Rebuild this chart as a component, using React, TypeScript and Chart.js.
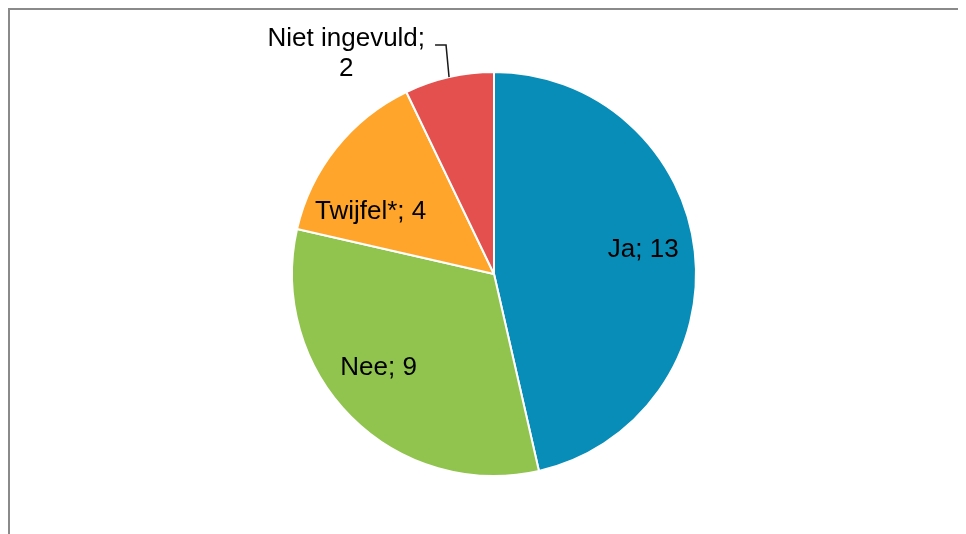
import React, { useEffect, useRef } from "react";
import { Chart, registerables } from "chart.js";

Chart.register(...registerables);

const categories = ["Ja", "Nee", "Twijfel*", "Niet ingevuld"];
const values = [13, 9, 4, 2];
const colors = ["#078DB7", "#91C44E", "#FFA52C", "#E3504D"];

// label placement per slice: inside (radius fraction + angle nudge in degrees) or outside with leader
const labelPlacement = [
  { mode: "inside", frac: 0.748, nudge: -2.7 },
  { mode: "inside", frac: 0.735, nudge: 6 },
  { mode: "inside", frac: 0.685, nudge: -11.7 },
  { mode: "outside" },
];

const FONT = "26px 'Liberation Sans', Arial, sans-serif";

const labelPlugin = {
  id: "pieLabels",
  afterDatasetsDraw(chart: any) {
    const ctx = chart.ctx;
    const meta = chart.getDatasetMeta(0);
    ctx.save();
    ctx.font = FONT;
    ctx.fillStyle = "#000";
    ctx.textBaseline = "middle";
    meta.data.forEach((arc: any, i: number) => {
      const p = labelPlacement[i];
      const { x, y, startAngle, endAngle, outerRadius } = arc.getProps(
        ["x", "y", "startAngle", "endAngle", "outerRadius"],
        true
      );
      const mid = (startAngle + endAngle) / 2;
      const text = categories[i] + "; " + values[i];
      if (p.mode === "inside") {
        const a = mid + ((p.nudge || 0) * Math.PI) / 180;
        const r = outerRadius * (p.frac as number);
        ctx.textAlign = "center";
        ctx.fillText(text, x + Math.cos(a) * r, y + Math.sin(a) * r);
      } else {
        const ex = x + Math.cos(mid) * outerRadius;
        const ey = y + Math.sin(mid) * outerRadius;
        const bx = ex - 3;
        const by = ey - 32;
        const hx = bx - 11;
        ctx.strokeStyle = "#1a1a1a";
        ctx.lineWidth = 1.5;
        ctx.beginPath();
        ctx.moveTo(ex, ey);
        ctx.lineTo(bx, by);
        ctx.lineTo(hx, by);
        ctx.stroke();
        const line1 = categories[i] + ";";
        const line2 = String(values[i]);
        const w = ctx.measureText(line1).width;
        const cx = hx - 10 - w / 2;
        ctx.textAlign = "center";
        ctx.fillText(line1, cx, by - 6);
        ctx.fillText(line2, cx, by + 24);
      }
    });
    ctx.restore();
  },
};

export default function App() {
  const ref = useRef<HTMLCanvasElement | null>(null);
  useEffect(() => {
    if (!ref.current) return;
    const chart = new Chart(ref.current, {
      type: "pie",
      data: {
        labels: categories,
        datasets: [
          {
            data: values,
            backgroundColor: colors,
            borderColor: "#ffffff",
            borderWidth: 2,
          },
        ],
      },
      options: {
        animation: false,
        responsive: false,
        maintainAspectRatio: false,
        layout: { padding: { left: 281, right: 269, top: 61, bottom: 57 } },
        plugins: {
          legend: { display: false },
          tooltip: { enabled: false },
        },
      },
      plugins: [labelPlugin],
    });
    return () => chart.destroy();
  }, []);
  return (
    <div
      style={{
        width: 958,
        height: 526,
        boxSizing: "border-box",
        borderTop: "2px solid #8a8a8a",
        borderLeft: "2px solid #8a8a8a",
        background: "#fff",
        overflow: "hidden",
      }}
    >
      <canvas ref={ref} width={956} height={524} style={{ display: "block" }} />
    </div>
  );
}
